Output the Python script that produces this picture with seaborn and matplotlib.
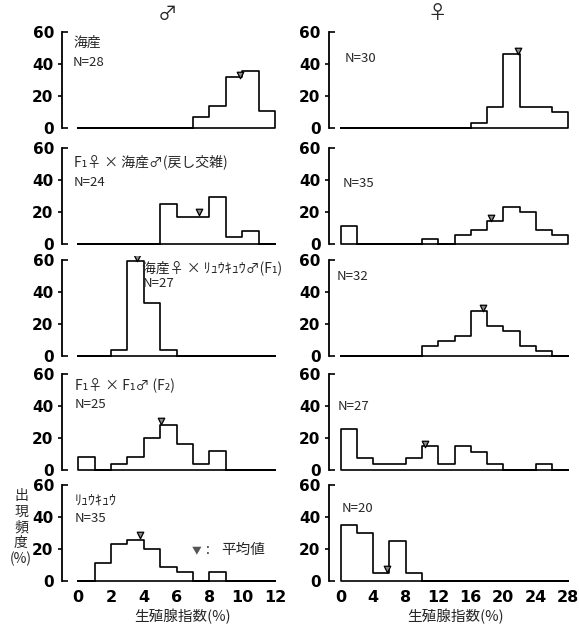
import numpy as np
import pandas as pd
import matplotlib
matplotlib.use("Agg")
import matplotlib.pyplot as plt
import seaborn as sns
from matplotlib.ticker import FixedLocator, FixedFormatter

sns.set_style("white")
plt.rcParams['font.family'] = ['DejaVu Sans', 'Noto Sans CJK JP']
CJK = ['Noto Sans CJK JP', 'DejaVu Sans']

# ---------------- data ----------------
male_edges = [0, 1, 2, 3, 4, 5, 6, 7, 8, 9, 10, 11, 12]
female_edges = [0, 2, 4, 6, 8, 10, 12, 14, 16, 18, 20, 22, 24, 26, 28]

male_kaisan = [0, 0, 0, 0, 0, 0, 0, 7.1, 14.3, 32.1, 35.7, 10.7]
male_backcross = [0, 0, 0, 0, 0, 25.0, 16.7, 16.7, 29.2, 4.2, 8.3, 0]
male_f1 = [0, 0, 3.7, 59.3, 33.3, 3.7, 0, 0, 0, 0, 0, 0]
male_f2 = [8, 0, 4, 8, 20, 28, 16, 4, 12, 0, 0, 0]
male_ryukyu = [0, 11.4, 22.9, 25.7, 20.0, 8.6, 5.7, 0, 5.7, 0, 0, 0]

female_kaisan = [0, 0, 0, 0, 0, 0, 0, 0, 3.3, 13.3, 46.7, 13.3, 13.3, 10.0]
female_backcross = [11.4, 0, 0, 0, 0, 2.9, 0, 5.7, 8.6, 14.3, 22.9, 20.0, 8.6, 5.7]
female_f1 = [0, 0, 0, 0, 0, 6.25, 9.4, 12.5, 28.1, 18.75, 15.6, 6.25, 3.1, 0]
female_f2 = [25.9, 7.4, 3.7, 3.7, 7.4, 14.8, 3.7, 14.8, 11.1, 3.7, 0, 0, 3.7, 0]
female_ryukyu = [35, 30, 5, 25, 5, 0, 0, 0, 0, 0, 0, 0, 0, 0]

male_mean_x = [9.86, 7.36, 3.6, 5.04, 3.76]
male_mean_y = [33.5, 20.3, 61.5, 30.5, 28.5]
female_mean_x = [21.8, 18.5, 17.5, 10.4, 5.65]
female_mean_y = [48.5, 16.0, 30.0, 16.5, 7.5]

male_groups = ["海産", "F\u2081♀ × 海産♂(戻し交雑)", "海産♀ × ﾘｭｳｷｭｳ♂(F\u2081)",
               "F\u2081♀ × F\u2081♂ (F\u2082)", "ﾘｭｳｷｭｳ"]
male_n = ["N=28", "N=24", "N=27", "N=25", "N=35"]
female_n = ["N=30", "N=35", "N=32", "N=27", "N=20"]

male_xticks = [0, 2, 4, 6, 8, 10, 12]
female_xticks = [0, 4, 8, 12, 16, 20, 24, 28]

male_series = [male_kaisan, male_backcross, male_f1, male_f2, male_ryukyu]
female_series = [female_kaisan, female_backcross, female_f1, female_f2, female_ryukyu]

# ---------------- layout ----------------
W, H = 579, 630
fig = plt.figure(figsize=(W / 100, H / 100), dpi=100)

row_y0 = [128.5, 244.0, 356.3, 470.0, 581.0]   # pixel of y=0 per row
ppu_y = 1.6
YLO, YHI = -3, 63

def add_axes(left_px, width_px, y0):
    bottom_px = y0 + (0 - YLO) * ppu_y
    height_px = (YHI - YLO) * ppu_y
    return fig.add_axes([left_px / W, 1 - bottom_px / H, width_px / W, height_px / H])

def px(x, y):
    return x / W, 1 - y / H

def style_axis(ax, xlim, xticks, bottom):
    ax.set_xlim(*xlim)
    ax.set_ylim(YLO, YHI)
    for s in ["top", "right", "bottom"]:
        ax.spines[s].set_visible(False)
    ax.spines["left"].set_bounds(0, 60)
    ax.spines["left"].set_linewidth(1.3)
    ax.spines["left"].set_color("black")
    ax.yaxis.set_major_locator(FixedLocator([20, 40]))
    ax.yaxis.set_major_formatter(FixedFormatter(["20", "40"]))
    ax.yaxis.set_minor_locator(FixedLocator([0, 60]))
    ax.yaxis.set_minor_formatter(FixedFormatter(["0", "60"]))
    ax.tick_params(axis="y", which="major", left=True, direction="out", length=3,
                   width=1.2, pad=3, labelsize=11, colors="black")
    ax.tick_params(axis="y", which="minor", left=True, direction="in", length=4,
                   width=1.2, pad=5.5, labelsize=11, colors="black")
    for lab in ax.get_yticklabels(which="both"):
        lab.set_fontweight("bold")
    ax.set_xticks(xticks)
    if bottom:
        ax.set_xticklabels([str(t) for t in xticks], fontweight="bold")
        ax.tick_params(axis="x", bottom=True, length=0, pad=3, labelsize=11.5, colors="black")
    else:
        ax.set_xticklabels([])
        ax.tick_params(axis="x", bottom=False, length=0)
    ax.set_xlabel("")
    ax.set_ylabel("")
    ax.grid(False)
    ax.set_facecolor("none")

def draw_hist(ax, edges, vals, mx, my):
    e = [float(v) for v in edges]
    width = e[1] - e[0]
    centers = [(a + b) / 2 for a, b in zip(e[:-1], e[1:])]
    df = pd.DataFrame({"x": centers, "w": [float(v) for v in vals]})
    sns.histplot(data=df, x="x", weights="w", binwidth=width, binrange=(e[0], e[-1]),
                 element="step", fill=True, color="black", facecolor="none",
                 edgecolor="black", linewidth=1.2, ax=ax)
    sns.scatterplot(x=[mx], y=[my], marker="v", s=22, color="#888888",
                    edgecolor="black", linewidth=0.9, ax=ax, zorder=5)

for i in range(5):
    bottom = (i == 4)
    axL = add_axes(61.7, 13.15 * 16.4, row_y0[i])
    draw_hist(axL, male_edges, male_series[i], male_mean_x[i], male_mean_y[i])
    style_axis(axL, (-1, 12.15), male_xticks, bottom)

    axR = add_axes(328.5, 29.8 * 8.13, row_y0[i])
    draw_hist(axR, female_edges, female_series[i], female_mean_x[i], female_mean_y[i])
    style_axis(axR, (-1.5, 28.3), female_xticks, bottom)

# ---------------- text ----------------
fig.text(*px(168, 14), "♂", ha="center", va="center", fontsize=14, family=CJK)
fig.text(*px(437, 14), "♀", ha="center", va="center", fontsize=14, family=CJK)

grp_pos = [(73, 43), (74, 162), (142, 268), (75, 385), (75, 500)]
n_pos_m = [(73, 63), (74, 182), (143, 284), (75, 405), (75, 519)]
n_pos_f = [(345, 59), (343, 183), (337, 277), (338, 406), (342, 508)]
for i in range(5):
    fig.text(*px(*grp_pos[i]), male_groups[i], ha="left", va="center", fontsize=10, family=CJK)
    fig.text(*px(*n_pos_m[i]), male_n[i], ha="left", va="center", fontsize=9.5, family=CJK)
    fig.text(*px(*n_pos_f[i]), female_n[i], ha="left", va="center", fontsize=9.5, family=CJK)

fig.text(*px(192, 550), "▼", ha="left", va="center", fontsize=7, color="#555555", family=CJK)
fig.text(*px(206, 550), ":", ha="left", va="center", fontsize=10, family=CJK)
fig.text(*px(221, 550), "平均値", ha="left", va="center", fontsize=10.5, family=CJK)
fig.text(*px(21, 528), "出\n現\n頻\n度\n(%)", ha="center", va="center", fontsize=10,
         family=CJK, linespacing=1.15)
fig.text(*px(182, 617), "生殖腺指数(%)", ha="center", va="center", fontsize=10.5, family=CJK)
fig.text(*px(455, 617), "生殖腺指数(%)", ha="center", va="center", fontsize=10.5, family=CJK)

fig.savefig("out.png", dpi=100, facecolor="white")
